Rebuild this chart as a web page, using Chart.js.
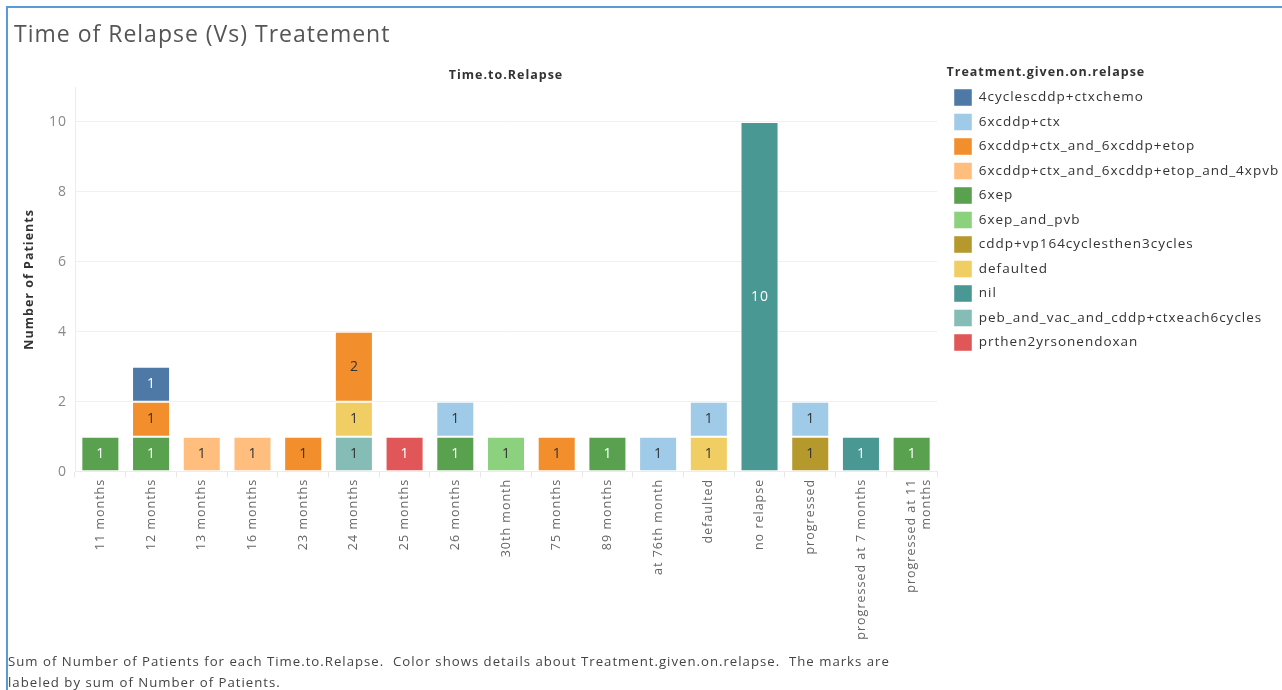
<!DOCTYPE html>
<html lang="en">
<head>
<meta charset="UTF-8">
<title>Time of Relapse (Vs) Treatement</title>
<script src="https://cdn.jsdelivr.net/npm/chart.js@4.4.0/dist/chart.umd.min.js"></script>
<style>
  html, body { margin: 0; padding: 0; background: #fff; overflow: hidden; }
  #frame { position: absolute; left: 6px; top: 6px; width: 1300px; height: 700px;
           border-left: 2px solid #5b9bd5; border-top: 2px solid #5b9bd5; }
  #wrap { position: absolute; left: 0; top: 0; width: 1282px; height: 694px; }
</style>
</head>
<body>
<div id="frame"></div>
<div id="wrap"><canvas id="chart"></canvas></div>
<script>
// categories along the x axis
var categories = ["11 months", "12 months", "13 months", "16 months", "23 months", "24 months",
  "25 months", "26 months", "30th month", "75 months", "89 months", "at 76th month", "defaulted",
  "no relapse", "progressed", "progressed at 7 months", ["progressed at 11", "months"]];

// treatments, legend order
var treatments = ["4cyclescddp+ctxchemo", "6xcddp+ctx", "6xcddp+ctx_and_6xcddp+etop",
  "6xcddp+ctx_and_6xcddp+etop_and_4xpvb", "6xep", "6xep_and_pvb", "cddp+vp164cyclesthen3cycles",
  "defaulted", "nil", "peb_and_vac_and_cddp+ctxeach6cycles", "prthen2yrsonendoxan"];

// number of patients per category, one array per treatment
var cyclesCtxChemo   = [null, 1, null, null, null, null, null, null, null, null, null, null, null, null, null, null, null];
var cddpCtx          = [null, null, null, null, null, null, null, 1, null, null, null, 1, 1, null, 1, null, null];
var cddpCtxEtop      = [null, 1, null, null, 1, 2, null, null, null, 1, null, null, null, null, null, null, null];
var cddpCtxEtopPvb   = [null, null, 1, 1, null, null, null, null, null, null, null, null, null, null, null, null, null];
var sixXep           = [1, 1, null, null, null, null, null, 1, null, null, 1, null, null, null, null, null, 1];
var sixXepPvb        = [null, null, null, null, null, null, null, null, 1, null, null, null, null, null, null, null, null];
var cddpVp16         = [null, null, null, null, null, null, null, null, null, null, null, null, null, null, 1, null, null];
var defaultedVals    = [null, null, null, null, null, 1, null, null, null, null, null, null, 1, null, null, null, null];
var nilVals          = [null, null, null, null, null, null, null, null, null, null, null, null, null, 10, null, 1, null];
var pebVac           = [null, null, null, null, null, 1, null, null, null, null, null, null, null, null, null, null, null];
var prEndoxan        = [null, null, null, null, null, null, 1, null, null, null, null, null, null, null, null, null, null];

var seriesValues = [cyclesCtxChemo, cddpCtx, cddpCtxEtop, cddpCtxEtopPvb, sixXep, sixXepPvb,
  cddpVp16, defaultedVals, nilVals, pebVac, prEndoxan];

var yTicks = [0, 2, 4, 6, 8, 10];

var colors = ["#4e79a7", "#a0cbe8", "#f28e2b", "#ffbe7d", "#59a14f", "#8cd17d",
  "#b6992d", "#f1ce63", "#499894", "#86bcb6", "#e15759"];
var labelColors = ["#fff", "#333", "#333", "#333", "#fff", "#333",
  "#333", "#333", "#fff", "#333", "#fff"];

var FONT = "'Open Sans', sans-serif";

// later legend entries sit at the bottom of each stack
var datasets = [];
for (var i = treatments.length - 1; i >= 0; i--) {
  datasets.push({
    label: treatments[i],
    data: seriesValues[i],
    backgroundColor: colors[i],
    borderColor: 'rgba(255,255,255,0.45)',
    borderWidth: 1,
    borderSkipped: false,
    labelColor: labelColors[i],
    barPercentage: 0.75,
    categoryPercentage: 1.0
  });
}

// tableau text is set a bit looser than the canvas default
var spacing = {
  id: 'spacing',
  beforeUpdate: function(chart) { chart.ctx.letterSpacing = '1px'; },
  beforeLayout: function(chart) { chart.ctx.letterSpacing = '1px'; },
  afterLayout: function(chart) {
    // title sits a little further in than the caption
    if (chart.titleBlock) chart.titleBlock.left = 14;
    if (chart.subtitleBlock) chart.subtitleBlock.left = 9;
  },
  beforeDraw: function(chart) { chart.ctx.letterSpacing = '1px'; }
};

// writes the value in the middle of each segment
var barLabels = {
  id: 'barLabels',
  afterDatasetsDraw: function(chart) {
    var ctx = chart.ctx;
    ctx.save();
    ctx.font = "14px " + FONT;
    ctx.textAlign = 'center';
    ctx.textBaseline = 'middle';
    chart.data.datasets.forEach(function(ds, di) {
      var meta = chart.getDatasetMeta(di);
      meta.data.forEach(function(bar, j) {
        var v = ds.data[j];
        if (v === null || v === undefined) return;
        var p = bar.getProps(['x', 'y', 'base'], true);
        ctx.fillStyle = ds.labelColor;
        ctx.fillText(String(v), p.x + 0.5, (p.y + p.base) / 2);
      });
    });
    ctx.restore();
  }
};

var options = {
  type: 'bar',
  data: { labels: categories, datasets: datasets },
  options: {
    responsive: true,
    maintainAspectRatio: false,
    animation: false,
    layout: { padding: { left: 8, top: 10, right: 0, bottom: 0 } },
    plugins: {
      tooltip: { enabled: false },
      title: {
        display: true,
        text: 'Time of Relapse (Vs) Treatement',
        align: 'start',
        color: '#555',
        font: { family: FONT, size: 23, weight: 'normal' },
        padding: { top: 11.2, bottom: 6.4 }
      },
      subtitle: {
        display: true,
        position: 'bottom',
        align: 'start',
        text: ['Sum of Number of Patients for each Time.to.Relapse.  Color shows details about Treatment.given.on.relapse.  The marks are',
               'labeled by sum of Number of Patients.'],
        color: '#444',
        font: { family: FONT, size: 13.2, lineHeight: 1.6 },
        padding: { top: 4, bottom: 0 }
      },
      legend: {
        position: 'right',
        align: 'start',
        maxWidth: 335.5,
        reverse: true,
        title: {
          display: true,
          text: 'Treatment.given.on.relapse',
          position: 'start',
          color: '#333',
          font: { family: FONT, size: 12.5, weight: 'bold' },
          padding: { top: 56.5, bottom: 0 }
        },
        labels: {
          boxWidth: 18,
          boxHeight: 17,
          padding: 7.5,
          color: '#333',
          font: { family: FONT, size: 13.5 }
        }
      }
    },
    scales: {
      x: {
        stacked: true,
        grid: { display: true, drawOnChartArea: false, drawTicks: true, tickLength: 6, color: '#e8e8e8', offset: true },
        border: { display: true, color: '#ececec' },
        ticks: { color: '#666', font: { family: FONT, size: 12.5 }, minRotation: 90, maxRotation: 90, autoSkip: false, padding: 1 },
        afterFit: function(s) { s.height = 176; }
      },
      x2: {
        type: 'category',
        position: 'top',
        grid: { display: false },
        border: { display: false },
        ticks: { display: false },
        title: { display: true, text: 'Time.to.Relapse', color: '#333', font: { family: FONT, size: 12.5, weight: 'bold' }, padding: { top: 12.5, bottom: 0 } },
        afterFit: function(s) { s.height = 31.8; }
      },
      y: {
        stacked: true,
        min: 0,
        max: 11,
        afterBuildTicks: function(s) {
          s.ticks = yTicks.map(function(v) { return { value: v }; });
        },
        grid: { color: '#f0f0f0', drawTicks: false },
        border: { display: true, color: '#ececec' },
        ticks: { color: '#888', font: { family: FONT, size: 14 }, padding: 8 },
        title: { display: true, text: 'Number of Patients', color: '#333', font: { family: FONT, size: 12.5, weight: 'bold' }, padding: { top: 14, bottom: 0 } },
        afterFit: function(s) { s.width = 67; }
      },
      yR: {
        position: 'right',
        grid: { display: false },
        border: { display: false },
        ticks: { display: false },
        afterFit: function(s) { s.width = 9.5; }
      }
    }
  },
  plugins: [spacing, barLabels]
};

var ctx = document.getElementById('chart').getContext('2d');
window.chart = new Chart(ctx, options);
</script>
</body>
</html>
